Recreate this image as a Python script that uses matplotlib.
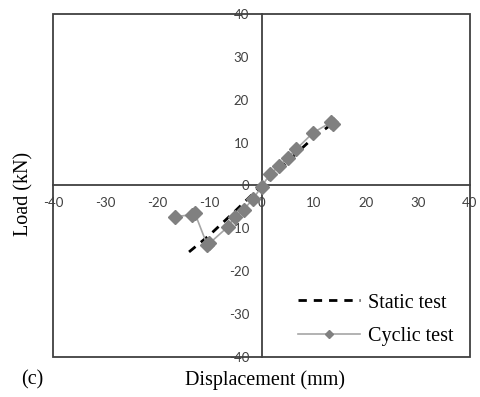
import matplotlib
matplotlib.use("Agg")
import matplotlib.pyplot as plt
from matplotlib.patches import Rectangle

static_x = [-13.9, -10.0, -5.0, 0.0, 5.0, 10.0, 13.8]
static_y = [-15.5, -11.6, -5.9, 0.0, 5.6, 11.2, 14.6]

cyclic_x = [-16.6, -13.4, -12.8, -10.4, -10.0, -6.5, -5.1, -3.4, -1.6, 0.0, 1.6, 3.4, 5.0, 6.6, 9.9, 13.4, 13.8]
cyclic_y = [-7.3, -6.8, -6.4, -13.9, -13.5, -9.7, -7.3, -5.6, -3.1, -0.3, 2.6, 4.5, 6.4, 8.4, 12.3, 14.8, 14.3]

ticks = [-40, -30, -20, -10, 0, 10, 20, 30, 40]

plt.rcParams['font.family'] = ['Liberation Serif', 'DejaVu Serif']
plt.rcParams['axes.unicode_minus'] = False

fig = plt.figure(figsize=(4.8, 3.97), dpi=100)
ax = fig.add_axes([53/480, 1 - 357/397, (470-53)/480, (357-14)/397])
ax.set_xlim(-40, 40)
ax.set_ylim(-40, 40)

ax.plot(static_x, static_y, color='black', lw=2, ls=(0, (3, 2.5)), label='Static test', zorder=3)
ax.plot(cyclic_x, cyclic_y, color='#a6a6a6', lw=1.2, marker='D', markersize=6.8,
        markerfacecolor='#808080', markeredgecolor='#808080', label='Cyclic test', zorder=4)

for s in ['top', 'right']:
    ax.spines[s].set_visible(False)
ax.spines['left'].set_position('zero')
ax.spines['bottom'].set_position('zero')
for s in ['left', 'bottom']:
    ax.spines[s].set_color('#404040')
    ax.spines[s].set_linewidth(1.3)
ax.add_patch(Rectangle((0, 0), 1, 1, transform=ax.transAxes, fill=False,
                       edgecolor='#404040', lw=1.3, zorder=5, clip_on=False))

ax.set_xticks(ticks)
ax.set_yticks(ticks)
ax.tick_params(length=0, labelsize=9.5, colors='#404040')
ax.tick_params(axis='x', pad=8)
ax.tick_params(axis='y', pad=9)
for lbl in ax.get_xticklabels() + ax.get_yticklabels():
    lbl.set_family(['Lato', 'DejaVu Sans'])

fig.text(265/480, 1 - 380/397, 'Displacement (mm)', ha='center', va='center', fontsize=14.5)
fig.text(24/480, 1 - 194/397, 'Load (kN)', ha='center', va='center', fontsize=14.5, rotation=90)
fig.text(21/480, 1 - 380/397, '(c)', ha='left', va='center', fontsize=14.5)

ax.legend(loc='lower right', bbox_to_anchor=(1.005, -0.02), frameon=False, fontsize=14.5,
          handlelength=3.1, handletextpad=0.4, markerscale=0.6, labelspacing=0.7)

fig.savefig('out.png', dpi=100)
